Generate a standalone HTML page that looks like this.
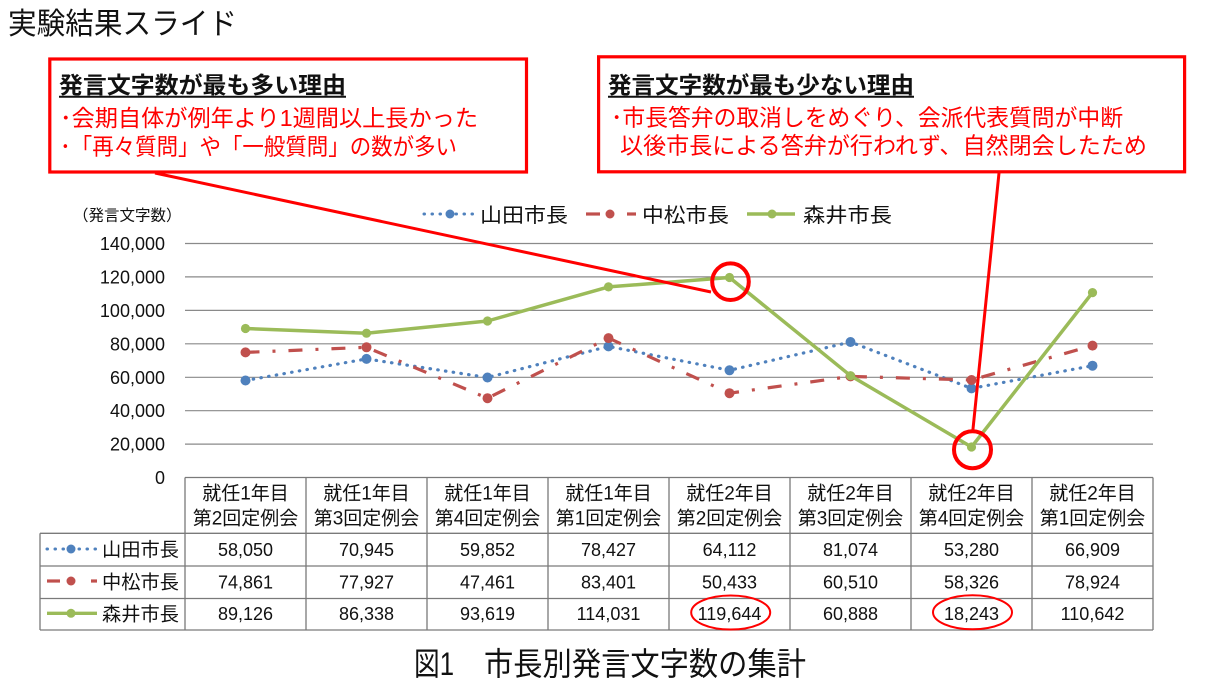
<!DOCTYPE html>
<html>
<head>
<meta charset="utf-8">
<style>
html,body{margin:0;padding:0;background:#fff;}
svg{display:block;}
text{font-family:"Liberation Sans","Noto Sans CJK JP",sans-serif;fill:#111;}
</style>
</head>
<body>
<svg width="1211" height="680" viewBox="0 0 1211 680" xmlns="http://www.w3.org/2000/svg">
<rect width="1211" height="680" fill="#fff"/>

<!-- Title -->
<text x="8" y="34" font-size="30" textLength="229" lengthAdjust="spacingAndGlyphs">実験結果スライド</text>

<!-- Left callout box -->
<rect x="49.8" y="59" width="476.7" height="113" fill="none" stroke="#FF0000" stroke-width="3.2"/>
<text x="59" y="93" font-size="23" font-weight="bold" textLength="287" lengthAdjust="spacingAndGlyphs">発言文字数が最も多い理由</text>
<line x1="59" y1="96.8" x2="346" y2="96.8" stroke="#111" stroke-width="2"/>
<text x="60" y="126" font-size="23" style="fill:#FF0000" textLength="418" lengthAdjust="spacingAndGlyphs">･会期自体が例年より1週間以上長かった</text>
<text x="60" y="154.5" font-size="23" style="fill:#FF0000" textLength="397" lengthAdjust="spacingAndGlyphs">･「再々質問」や「一般質問」の数が多い</text>

<!-- Right callout box -->
<rect x="598.6" y="56.8" width="586" height="115" fill="none" stroke="#FF0000" stroke-width="3.2"/>
<text x="608" y="93" font-size="23" font-weight="bold" textLength="306" lengthAdjust="spacingAndGlyphs">発言文字数が最も少ない理由</text>
<line x1="608" y1="96.8" x2="914" y2="96.8" stroke="#111" stroke-width="2"/>
<text x="611" y="125.5" font-size="23" style="fill:#FF0000" textLength="512" lengthAdjust="spacingAndGlyphs">･市長答弁の取消しをめぐり、会派代表質問が中断</text>
<text x="620" y="153.5" font-size="23" style="fill:#FF0000" textLength="527" lengthAdjust="spacingAndGlyphs">以後市長による答弁が行われず、自然閉会したため</text>

<!-- Axis unit label -->
<text x="73" y="220.5" font-size="15.5">（発言文字数）</text>

<!-- Legend -->
<line x1="424" y1="214" x2="476" y2="214" stroke="#4F81BD" stroke-width="3" stroke-dasharray="0.5 7.5" stroke-linecap="round"/>
<circle cx="450" cy="214" r="4.5" fill="#4F81BD"/>
<text x="480" y="222" font-size="20" textLength="88" lengthAdjust="spacingAndGlyphs">山田市長</text>

<line x1="586" y1="214" x2="600" y2="214" stroke="#C0504D" stroke-width="3.2"/>
<line x1="627" y1="214" x2="636" y2="214" stroke="#C0504D" stroke-width="3.2"/>
<circle cx="610" cy="214" r="4.5" fill="#C0504D"/>
<text x="642" y="222" font-size="20" textLength="87" lengthAdjust="spacingAndGlyphs">中松市長</text>

<line x1="747" y1="214" x2="795" y2="214" stroke="#9BBB59" stroke-width="3.4"/>
<circle cx="772" cy="214" r="4.5" fill="#9BBB59"/>
<text x="803" y="222" font-size="20" textLength="89" lengthAdjust="spacingAndGlyphs">森井市長</text>

<!-- Gridlines -->
<g stroke="#8a8a8a" stroke-width="1.2">
<line x1="185" y1="243.5" x2="1153" y2="243.5"/>
<line x1="185" y1="276.9" x2="1153" y2="276.9"/>
<line x1="185" y1="310.4" x2="1153" y2="310.4"/>
<line x1="185" y1="343.8" x2="1153" y2="343.8"/>
<line x1="185" y1="377.3" x2="1153" y2="377.3"/>
<line x1="185" y1="410.7" x2="1153" y2="410.7"/>
<line x1="185" y1="444.1" x2="1153" y2="444.1"/>
</g>

<!-- Y labels -->
<g font-size="18" text-anchor="end">
<text x="165" y="250">140,000</text>
<text x="165" y="283.4">120,000</text>
<text x="165" y="316.9">100,000</text>
<text x="165" y="350.3">80,000</text>
<text x="165" y="383.8">60,000</text>
<text x="165" y="417.2">40,000</text>
<text x="165" y="450.6">20,000</text>
<text x="165" y="484">0</text>
</g>

<!-- Series: 山田 (blue dotted) -->
<polyline points="245.5,380.5 366.5,358.9 487.5,377.5 608.5,346.4 729.5,370.3 850.5,342.0 971.5,388.4 1092.5,365.7" fill="none" stroke="#4F81BD" stroke-width="3.2" stroke-dasharray="0.5 7.3" stroke-linecap="round" stroke-linejoin="round"/>
<g fill="#4F81BD">
<circle cx="245.5" cy="380.5" r="5"/><circle cx="366.5" cy="358.9" r="5"/><circle cx="487.5" cy="377.5" r="5"/><circle cx="608.5" cy="346.4" r="5"/><circle cx="729.5" cy="370.3" r="5"/><circle cx="850.5" cy="342.0" r="5"/><circle cx="971.5" cy="388.4" r="5"/><circle cx="1092.5" cy="365.7" r="5"/>
</g>

<!-- Series: 中松 (red dash-dot) -->
<polyline points="245.5,352.4 366.5,347.3 487.5,398.2 608.5,338.1 729.5,393.2 850.5,376.4 971.5,380.0 1092.5,345.6" fill="none" stroke="#C0504D" stroke-width="3.2" stroke-dasharray="14 13 3 13" stroke-linejoin="round"/>
<g fill="#C0504D">
<circle cx="245.5" cy="352.4" r="5"/><circle cx="366.5" cy="347.3" r="5"/><circle cx="487.5" cy="398.2" r="5"/><circle cx="608.5" cy="338.1" r="5"/><circle cx="729.5" cy="393.2" r="5"/><circle cx="850.5" cy="376.4" r="5"/><circle cx="971.5" cy="380.0" r="5"/><circle cx="1092.5" cy="345.6" r="5"/>
</g>

<!-- Series: 森井 (green solid) -->
<polyline points="245.5,328.5 366.5,333.2 487.5,321.0 608.5,286.9 729.5,277.5 850.5,375.7 971.5,447.0 1092.5,292.6" fill="none" stroke="#9BBB59" stroke-width="3.5" stroke-linejoin="round"/>
<g fill="#9BBB59">
<circle cx="245.5" cy="328.5" r="4.6"/><circle cx="366.5" cy="333.2" r="4.6"/><circle cx="487.5" cy="321.0" r="4.6"/><circle cx="608.5" cy="286.9" r="4.6"/><circle cx="729.5" cy="277.5" r="4.6"/><circle cx="850.5" cy="375.7" r="4.6"/><circle cx="971.5" cy="447.0" r="4.6"/><circle cx="1092.5" cy="292.6" r="4.6"/>
</g>

<!-- Callout lines and circles -->
<line x1="155" y1="173" x2="711" y2="292" stroke="#FF0000" stroke-width="3"/>
<line x1="999" y1="173" x2="972.8" y2="431" stroke="#FF0000" stroke-width="3"/>
<circle cx="730.5" cy="281.7" r="18.3" fill="none" stroke="#FF0000" stroke-width="4"/>
<circle cx="972.5" cy="449.7" r="18.5" fill="none" stroke="#FF0000" stroke-width="4"/>

<!-- Data table -->
<g stroke="#7a7a7a" stroke-width="1.3">
<line x1="185" y1="477.5" x2="1153" y2="477.5"/>
<line x1="40" y1="533.3" x2="1153" y2="533.3"/>
<line x1="40" y1="566" x2="1153" y2="566"/>
<line x1="40" y1="598.5" x2="1153" y2="598.5"/>
<line x1="40" y1="630" x2="1153" y2="630"/>
<line x1="40" y1="533.3" x2="40" y2="630"/>
<line x1="185" y1="477.5" x2="185" y2="630"/>
<line x1="306" y1="477.5" x2="306" y2="630"/>
<line x1="427" y1="477.5" x2="427" y2="630"/>
<line x1="548" y1="477.5" x2="548" y2="630"/>
<line x1="669" y1="477.5" x2="669" y2="630"/>
<line x1="790" y1="477.5" x2="790" y2="630"/>
<line x1="911" y1="477.5" x2="911" y2="630"/>
<line x1="1032" y1="477.5" x2="1032" y2="630"/>
<line x1="1153" y1="477.5" x2="1153" y2="630"/>
</g>

<!-- Header texts -->
<g font-size="19" text-anchor="middle">
<text x="245.5" y="499.5">就任1年目</text><text x="245.5" y="524.5">第2回定例会</text>
<text x="366.5" y="499.5">就任1年目</text><text x="366.5" y="524.5">第3回定例会</text>
<text x="487.5" y="499.5">就任1年目</text><text x="487.5" y="524.5">第4回定例会</text>
<text x="608.5" y="499.5">就任1年目</text><text x="608.5" y="524.5">第1回定例会</text>
<text x="729.5" y="499.5">就任2年目</text><text x="729.5" y="524.5">第2回定例会</text>
<text x="850.5" y="499.5">就任2年目</text><text x="850.5" y="524.5">第3回定例会</text>
<text x="971.5" y="499.5">就任2年目</text><text x="971.5" y="524.5">第4回定例会</text>
<text x="1092.5" y="499.5">就任2年目</text><text x="1092.5" y="524.5">第1回定例会</text>
</g>

<!-- Row legends -->
<line x1="47" y1="549" x2="98" y2="549" stroke="#4F81BD" stroke-width="3" stroke-dasharray="0.5 7.5" stroke-linecap="round"/>
<circle cx="71" cy="549" r="4.5" fill="#4F81BD"/>
<text x="102" y="556" font-size="19" textLength="77" lengthAdjust="spacingAndGlyphs">山田市長</text>

<line x1="47" y1="581" x2="60" y2="581" stroke="#C0504D" stroke-width="3.2"/>
<line x1="91" y1="581" x2="97" y2="581" stroke="#C0504D" stroke-width="3.2"/>
<circle cx="71" cy="581" r="4.5" fill="#C0504D"/>
<text x="102" y="588.5" font-size="19" textLength="77" lengthAdjust="spacingAndGlyphs">中松市長</text>

<line x1="47" y1="613.3" x2="97" y2="613.3" stroke="#9BBB59" stroke-width="3.4"/>
<circle cx="71" cy="613.3" r="4.5" fill="#9BBB59"/>
<text x="102" y="620.5" font-size="19" textLength="77" lengthAdjust="spacingAndGlyphs">森井市長</text>

<!-- Data values -->
<g font-size="18" text-anchor="middle">
<text x="245.5" y="556">58,050</text><text x="366.5" y="556">70,945</text><text x="487.5" y="556">59,852</text><text x="608.5" y="556">78,427</text><text x="729.5" y="556">64,112</text><text x="850.5" y="556">81,074</text><text x="971.5" y="556">53,280</text><text x="1092.5" y="556">66,909</text>
<text x="245.5" y="588.5">74,861</text><text x="366.5" y="588.5">77,927</text><text x="487.5" y="588.5">47,461</text><text x="608.5" y="588.5">83,401</text><text x="729.5" y="588.5">50,433</text><text x="850.5" y="588.5">60,510</text><text x="971.5" y="588.5">58,326</text><text x="1092.5" y="588.5">78,924</text>
<text x="245.5" y="620">89,126</text><text x="366.5" y="620">86,338</text><text x="487.5" y="620">93,619</text><text x="608.5" y="620">114,031</text><text x="729.5" y="620">119,644</text><text x="850.5" y="620">60,888</text><text x="971.5" y="620">18,243</text><text x="1092.5" y="620">110,642</text>
</g>

<!-- Highlight ellipses -->
<ellipse cx="730.7" cy="612.5" rx="39.5" ry="17" fill="none" stroke="#FF0000" stroke-width="2"/>
<ellipse cx="972.5" cy="612.3" rx="39.5" ry="17" fill="none" stroke="#FF0000" stroke-width="2"/>

<!-- Caption -->
<text x="414" y="675" font-size="32" textLength="40" lengthAdjust="spacingAndGlyphs">図1</text>
<text x="484" y="675" font-size="32" textLength="322" lengthAdjust="spacingAndGlyphs">市長別発言文字数の集計</text>
</svg>
</body>
</html>
